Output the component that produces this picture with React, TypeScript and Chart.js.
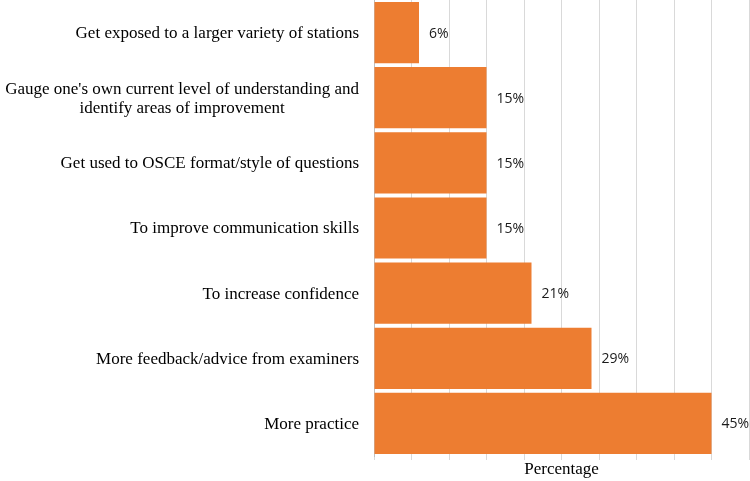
import React, { useEffect, useRef } from "react";
import { Chart, registerables } from "chart.js";

Chart.register(...registerables);

const categories: string[][] = [
  ["Get exposed to a larger variety of stations"],
  ["Gauge one's own current level of understanding and", "identify areas of improvement"],
  ["Get used to OSCE format/style of questions"],
  ["To improve communication skills"],
  ["To increase confidence"],
  ["More feedback/advice from examiners"],
  ["More practice"],
];
const percentages: number[] = [6, 15, 15, 15, 21, 29, 45];
const axisTitle = "Percentage";

const barColor = "#ED7D31";
const gridColor = "#d9d9d9";

const yLabelPlugin = {
  id: "yLabels",
  afterDraw(chart: any) {
    const ctx = chart.ctx;
    const yScale = chart.scales.y;
    const left = chart.chartArea.left;
    ctx.save();
    ctx.font = "17px 'Liberation Serif', 'Times New Roman', serif";
    ctx.fillStyle = "#000";
    ctx.textBaseline = "middle";
    ctx.textAlign = "center";
    const lh = 19;
    categories.forEach((lines, i) => {
      const y = yScale.getPixelForValue(i);
      const maxW = Math.max(...lines.map((l) => ctx.measureText(l).width));
      const cx = left - 15 - maxW / 2;
      const y0 = y - ((lines.length - 1) * lh) / 2;
      lines.forEach((l, j) => ctx.fillText(l, cx, y0 + j * lh + 1));
    });
    ctx.restore();
  },
};

const valueLabelPlugin = {
  id: "valueLabels",
  afterDatasetsDraw(chart: any) {
    const ctx = chart.ctx;
    const meta = chart.getDatasetMeta(0);
    ctx.save();
    ctx.font = "14px 'Open Sans', 'Liberation Sans', sans-serif";
    ctx.fillStyle = "#1a1a1a";
    ctx.textBaseline = "middle";
    ctx.textAlign = "left";
    meta.data.forEach((el: any, i: number) => {
      ctx.fillText(percentages[i] + "%", el.x + 10, el.y + 1);
    });
    ctx.restore();
  },
};

export default function App() {
  const ref = useRef<HTMLCanvasElement>(null);
  useEffect(() => {
    document.body.style.margin = "0";
    document.body.style.overflow = "hidden";
    const chart = new Chart(ref.current!, {
      type: "bar",
      data: {
        labels: categories.map((c) => c.join(" ")),
        datasets: [
          {
            data: percentages,
            backgroundColor: barColor,
            barPercentage: 0.94,
            categoryPercentage: 1,
          },
        ],
      },
      options: {
        indexAxis: "y",
        animation: false,
        responsive: false,
        maintainAspectRatio: false,
        layout: { padding: { top: 0, right: 1, bottom: 0, left: 0 } },
        plugins: { legend: { display: false }, tooltip: { enabled: false } },
        scales: {
          x: {
            min: 0,
            max: 50,
            ticks: { display: false, stepSize: 5 },
            grid: { color: gridColor, drawTicks: true, tickLength: 4 },
            border: { display: false },
            title: {
              display: true,
              text: axisTitle,
              color: "#000",
              font: { family: "'Liberation Serif', 'Times New Roman', serif", size: 17 },
              padding: { top: 0, bottom: 1 },
            },
            afterFit(scale: any) {
              scale.height = 25;
            },
          },
          y: {
            ticks: { display: false },
            grid: { display: false },
            border: { display: true, color: "#bfbfbf" },
            afterFit(scale: any) {
              scale.width = 374;
            },
          },
        },
      },
      plugins: [yLabelPlugin, valueLabelPlugin],
    });
    return () => chart.destroy();
  }, []);
  return (
    <div style={{ width: 750, height: 481 }}>
      <canvas ref={ref} width={750} height={481} style={{ display: "block" }} />
    </div>
  );
}
